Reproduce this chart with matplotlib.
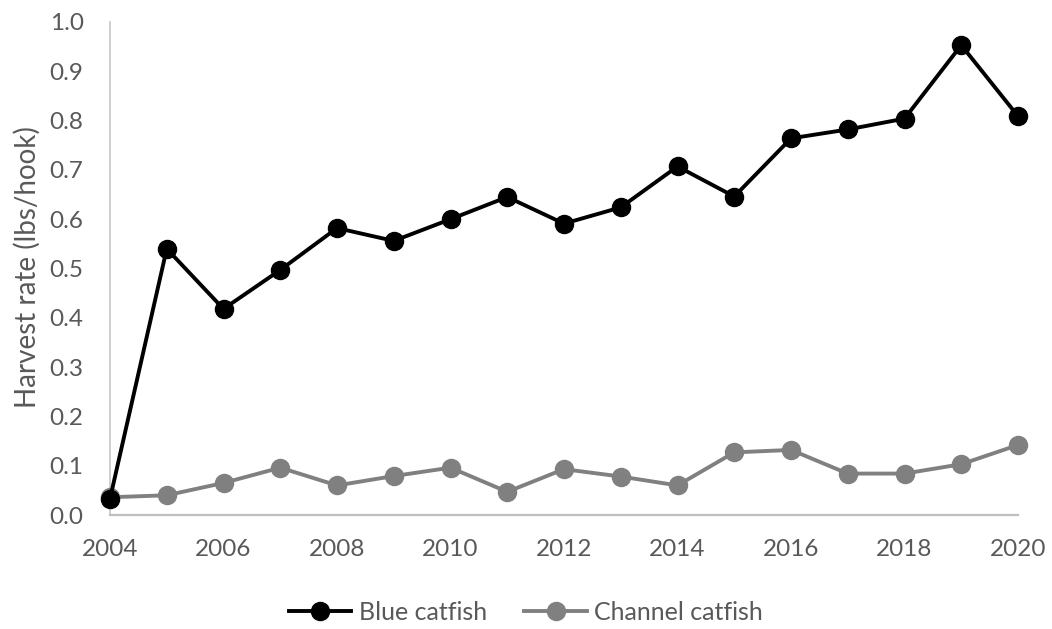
import matplotlib
matplotlib.use("Agg")
import matplotlib.pyplot as plt
from matplotlib.ticker import FormatStrFormatter

years = list(range(2004, 2021))
blue_catfish = [0.033, 0.540, 0.418, 0.497, 0.582, 0.556, 0.600, 0.645, 0.591,
                0.624, 0.707, 0.646, 0.764, 0.782, 0.804, 0.953, 0.809]
channel_catfish = [0.036, 0.040, 0.065, 0.096, 0.060, 0.079, 0.096, 0.047, 0.093,
                   0.078, 0.060, 0.127, 0.132, 0.084, 0.084, 0.103, 0.142]
x_ticks = list(range(2004, 2021, 2))
y_ticks = [i / 10 for i in range(11)]

plt.rcParams['font.family'] = ['Lato', 'DejaVu Sans']
text_color = '#595959'

W, H = 1052, 629
fig = plt.figure(figsize=(W / 100, H / 100), dpi=100)
ax = fig.add_axes([110 / W, 1 - 515 / H, (1018 - 110) / W, (515 - 22) / H])

ax.plot(years, channel_catfish, color='#808080', lw=2.8, marker='o', ms=13,
        label='Channel catfish', zorder=3, clip_on=False)
ax.plot(years, blue_catfish, color='black', lw=2.8, marker='o', ms=13,
        label='Blue catfish', zorder=4, clip_on=False)

ax.set_xlim(2004, 2020)
ax.set_ylim(0, 1.0)
ax.set_xticks(x_ticks)
ax.set_yticks(y_ticks)
ax.yaxis.set_major_formatter(FormatStrFormatter('%.1f'))
ax.tick_params(axis='both', length=0, labelsize=17.5, colors=text_color)
ax.tick_params(axis='x', pad=17)
ax.tick_params(axis='y', pad=19)

for s in ['top', 'right']:
    ax.spines[s].set_visible(False)
ax.spines['left'].set_color('#cccccc')
ax.spines['bottom'].set_color('#bfbfbf')
ax.spines['left'].set_linewidth(1.3)
ax.spines['bottom'].set_linewidth(1.6)

ax.set_ylabel('Harvest rate (lbs/hook)', fontsize=20, color=text_color)
ax.yaxis.set_label_coords((41 - 110) / 908, (515 - 267) / 493)

handles, labels = ax.get_legend_handles_labels()
leg = fig.legend(handles[::-1], labels[::-1], loc='center', bbox_to_anchor=(526 / W, 1 - 612 / H),
                 ncol=2, frameon=False, fontsize=18, handlelength=2.5, columnspacing=1.5,
                 handletextpad=0.3, markerscale=1.0)
for t in leg.get_texts():
    t.set_color(text_color)

fig.savefig('out.png', dpi=100)
